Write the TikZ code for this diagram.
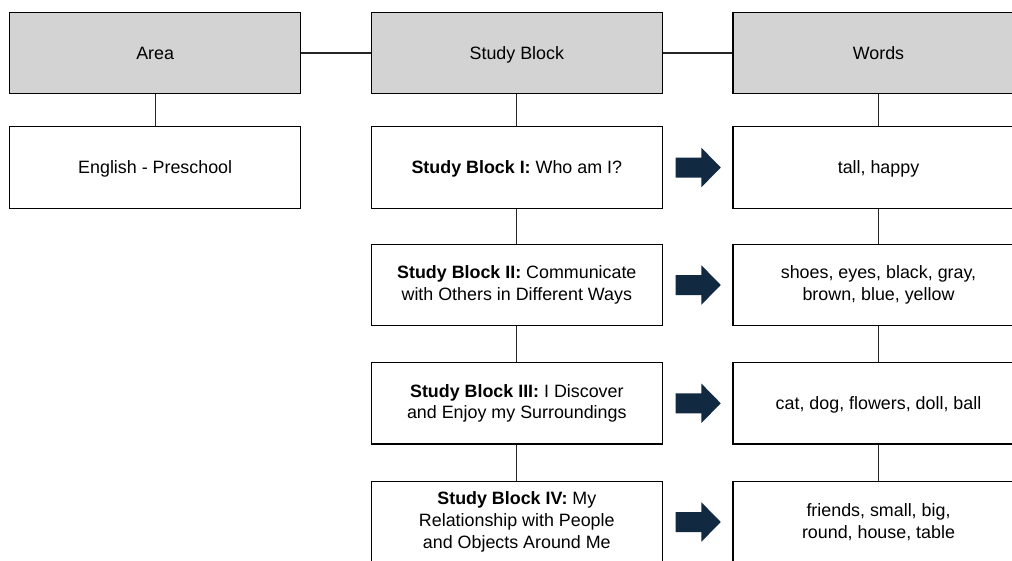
\documentclass[tikz,border=0pt]{standalone}
\usepackage{fontspec}
\setmainfont{Liberation Sans}
\definecolor{hdrgray}{RGB}{211,211,211}
\definecolor{navy}{RGB}{18,41,66}
\begin{document}
\begin{tikzpicture}[x=0.75pt,y=-0.75pt,
  box/.style={draw=black,line width=1.1pt,fill=white,minimum width=291*0.75pt,minimum height=81.5*0.75pt,
    align=center,inner sep=0pt,font=\fontsize{13.4pt}{16.3pt}\selectfont},
  oneline/.style={text height=9.6pt,text depth=0pt},
  hdr/.style={box,oneline,fill=hdrgray,minimum height=80.6*0.75pt},
  conn/.style={draw=black!85,line width=0.8pt},
  rarrow/.pic={\fill[navy] (0,-10) -- (25.7,-10) -- (25.7,-19.7) -- (45,0) -- (25.7,19.7) -- (25.7,10) -- (0,10) -- cycle;}]
\useasboundingbox (0,0) rectangle (1012,560);
\clip (0,0) rectangle (1012,560);
\fill[white] (0,0) rectangle (1012,560);
% headers
\node[hdr] (area) at (155.2,53) {Area};
\node[hdr] (sbh) at (516.8,53) {Study Block};
\node[hdr] (wh) at (878.5,53) {Words};
% rows
\node[box,oneline] (eng) at (155.2,167.5) {English - Preschool};
\node[box,oneline] (sb1) at (516.8,167.5) {\textbf{Study Block I:} Who am I?};
\node[box] (sb2) at (516.8,285) {\textbf{Study Block II:} Communicate\\with Others in Different Ways};
\node[box] (sb3) at (516.8,403.3) {\textbf{Study Block III:} I Discover\\and Enjoy my Surroundings};
\node[box] (sb4) at (516.8,522) {\textbf{Study Block IV:} My\\Relationship with People\\and Objects Around Me};
\node[box,oneline] (w1) at (878.5,167.5) {tall, happy};
\node[box] (w2) at (878.5,285) {shoes, eyes, black, gray,\\brown, blue, yellow};
\node[box,oneline] (w3) at (878.5,403.3) {cat, dog, flowers, doll, ball};
\node[box] (w4) at (878.5,522) {friends, small, big,\\round, house, table};
% connectors
\draw[conn] (area.east) -- (sbh.west);
\draw[conn] (sbh.east) -- (wh.west);
\draw[conn] (area.south) -- (eng.north);
\draw[conn] (sbh.south) -- (sb1.north);
\draw[conn] (sb1.south) -- (sb2.north);
\draw[conn] (sb2.south) -- (sb3.north);
\draw[conn] (sb3.south) -- (sb4.north);
\draw[conn] (wh.south) -- (w1.north);
\draw[conn] (w1.south) -- (w2.north);
\draw[conn] (w2.south) -- (w3.north);
\draw[conn] (w3.south) -- (w4.north);
% arrows
\path (sb1.east) ++(12.7,0) pic{rarrow};
\path (sb2.east) ++(12.7,0) pic{rarrow};
\path (sb3.east) ++(12.7,0) pic{rarrow};
\path (sb4.east) ++(12.7,0) pic{rarrow};
\end{tikzpicture}
\end{document}
